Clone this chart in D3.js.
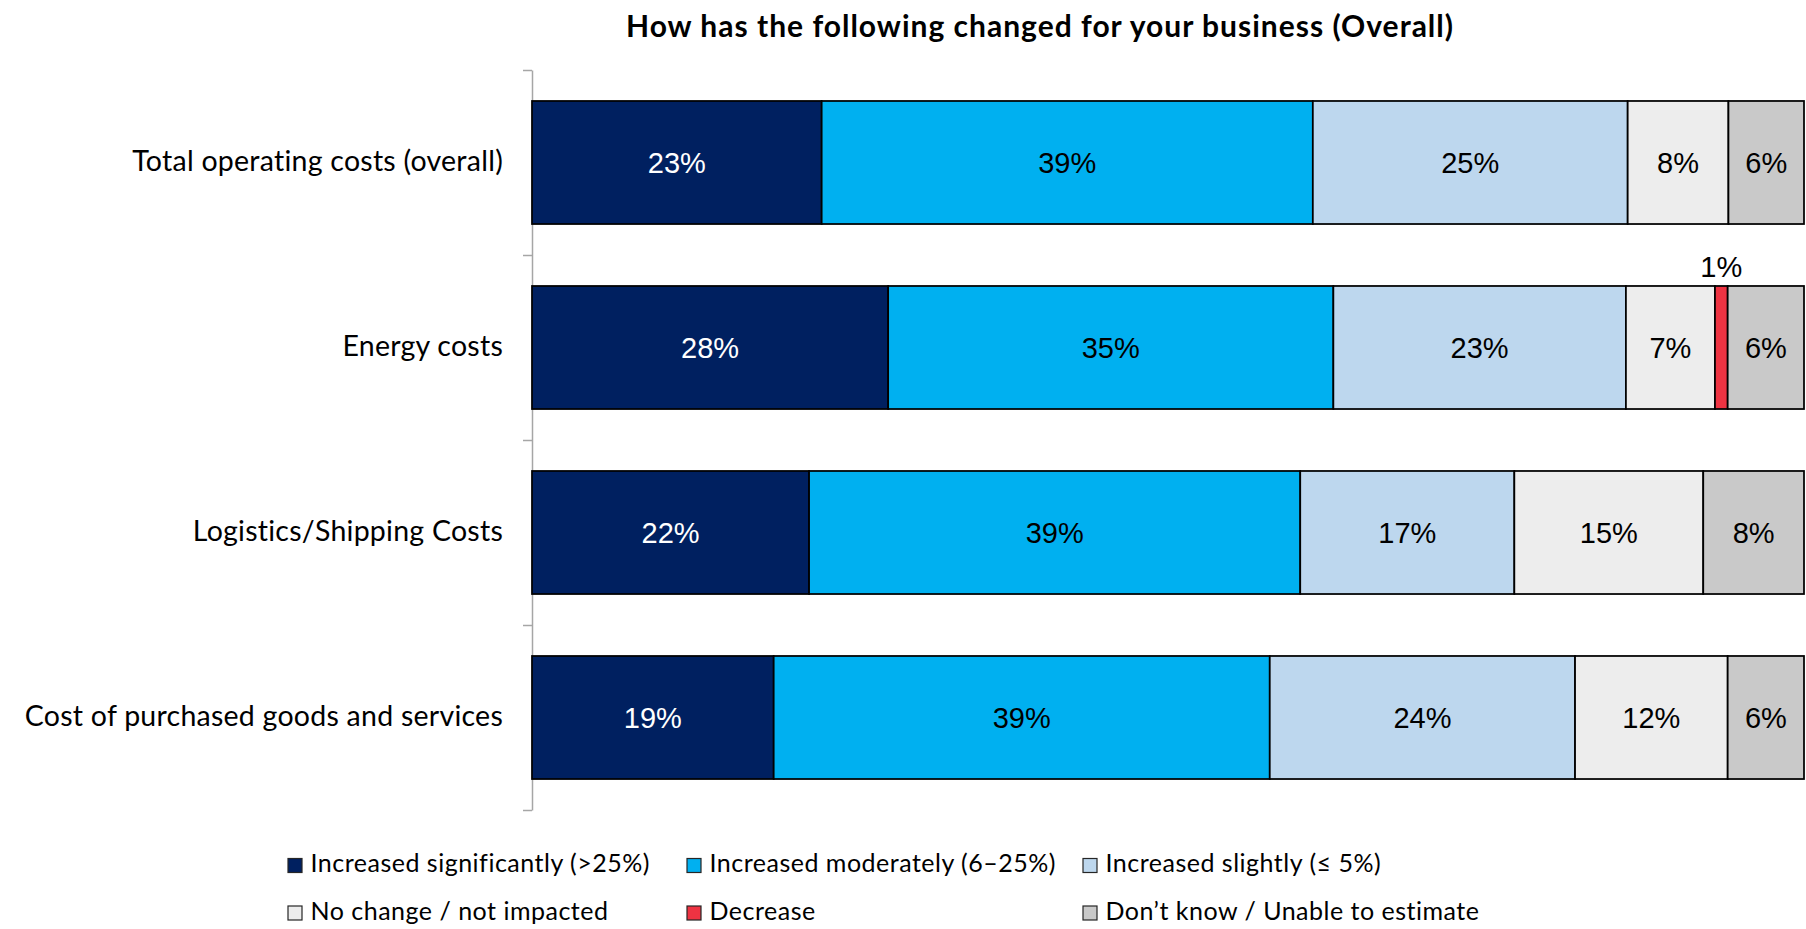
<!DOCTYPE html>
<html>
<head>
<meta charset="utf-8">
<script src="https://cdn.jsdelivr.net/npm/d3@7/dist/d3.min.js"></script>
<style>
  html, body { margin: 0; padding: 0; background: #ffffff; }
  svg { display: block; }
</style>
</head>
<body>
<svg id="chart" width="1806" height="929"></svg>
<script>
// Survey categories, top to bottom
const categories = [
  "Total operating costs (overall)",
  "Energy costs",
  "Logistics/Shipping Costs",
  "Cost of purchased goods and services"
];

// Response options, in stacking order
const seriesNames = [
  "Increased significantly (>25%)",
  "Increased moderately (6\u201325%)",
  "Increased slightly (\u2264 5%)",
  "No change / not impacted",
  "Decrease",
  "Don\u2019t know / Unable to estimate"
];

// Percent of respondents per category, one array per response option
const increasedSignificantly = [23, 28, 22, 19];
const increasedModerately    = [39, 35, 39, 39];
const increasedSlightly      = [25, 23, 17, 24];
const noChange               = [8, 7, 15, 12];
const decrease               = [0, 1, 0, 0];
const dontKnow               = [6, 6, 8, 6];

const seriesValues = [
  increasedSignificantly, increasedModerately, increasedSlightly,
  noChange, decrease, dontKnow
];

const colors = ["#002060", "#00B0F0", "#BDD7EE", "#EDEDED", "#EE3342", "#C9C9C9"];
const labelColors = ["#ffffff", "#000000", "#000000", "#000000", "#000000", "#000000"];

const title = "How has the following changed for your business (Overall)";

// Rows for the stack layout
const rows = categories.map((c, i) => {
  const r = { category: c };
  seriesNames.forEach((s, j) => { r[s] = seriesValues[j][i]; });
  return r;
});

const stack = d3.stack().keys(seriesNames).offset(d3.stackOffsetExpand);
const layers = stack(rows);

const svg = d3.select("#chart");

const x = d3.scaleLinear().domain([0, 1]).range([532, 1804]);
const y = d3.scaleBand().domain(categories).range([70, 810])
  .paddingInner(0.335).paddingOuter(0.1675);

// Title
svg.append("text")
  .attr("x", 1040).attr("y", 37)
  .attr("text-anchor", "middle")
  .attr("font-family", "Lato, 'Liberation Sans', sans-serif")
  .attr("font-weight", "bold")
  .attr("font-size", 30)
  .attr("letter-spacing", 1.0)
  .attr("fill", "#000")
  .text(title);

// Vertical axis with ticks between categories
const tickScale = d3.scaleLinear().domain([0, categories.length]).range([70, 810]);
const axisG = svg.append("g")
  .attr("transform", `translate(${x(0)},0)`)
  .call(d3.axisLeft(tickScale)
    .tickValues(d3.range(categories.length + 1))
    .tickFormat("")
    .tickSize(9)
    .tickSizeOuter(0));
axisG.selectAll("path, line").attr("stroke", "#A6A6A6").attr("stroke-width", 1.5);

// Category labels
svg.append("g").selectAll("text")
  .data(categories)
  .join("text")
  .attr("x", 503)
  .attr("y", d => y(d) + y.bandwidth() / 2 + 8)
  .attr("text-anchor", "end")
  .attr("font-family", "Lato, 'Liberation Sans', sans-serif")
  .attr("font-size", 28.5)
  .attr("letter-spacing", 0.25)
  .attr("fill", "#000")
  .text(d => d);

// Stacked segments
const layerG = svg.append("g").selectAll("g")
  .data(layers)
  .join("g")
  .attr("fill", (d, i) => colors[i]);

layerG.selectAll("rect")
  .data(d => d.filter(p => p[1] - p[0] > 0))
  .join("rect")
  .attr("x", d => x(d[0]))
  .attr("y", d => y(d.data.category))
  .attr("width", d => x(d[1]) - x(d[0]))
  .attr("height", y.bandwidth())
  .attr("stroke", "#000")
  .attr("stroke-width", 1.75);

// Value labels
layers.forEach((layer, i) => {
  const key = layer.key;
  svg.append("g").selectAll("text")
    .data(layer.filter(p => p.data[key] > 0))
    .join("text")
    .attr("x", d => (x(d[0]) + x(d[1])) / 2)
    .attr("y", d => {
      const yc = y(d.data.category) + y.bandwidth() / 2;
      // segments too narrow for a label get it above the bar
      return (x(d[1]) - x(d[0]) < 40) ? y(d.data.category) - 9 : yc + 10.5;
    })
    .attr("text-anchor", "middle")
    .attr("font-family", "'Liberation Sans', Arial, sans-serif")
    .attr("font-size", 29)
    .attr("fill", d => (x(d[1]) - x(d[0]) < 40) ? "#000" : labelColors[i])
    .text(d => d.data[key] + "%");
});

// Legend
const legendCols = [288, 687, 1083];
const legendRows = [872, 919.5];
const legend = svg.append("g").selectAll("g")
  .data(seriesNames)
  .join("g")
  .attr("transform", (d, i) => `translate(${legendCols[i % 3]},${legendRows[Math.floor(i / 3)]})`);

legend.append("rect")
  .attr("x", 0).attr("y", -13.5)
  .attr("width", 14).attr("height", 14)
  .attr("fill", (d, i) => colors[i])
  .attr("stroke", "#262626")
  .attr("stroke-width", 1.2);

legend.append("text")
  .attr("x", 22.5).attr("y", 0)
  .attr("font-family", "Lato, 'Liberation Sans', sans-serif")
  .attr("font-size", 25)
  .attr("letter-spacing", 0.5)
  .attr("fill", "#000")
  .text(d => d);
</script>
</body>
</html>
